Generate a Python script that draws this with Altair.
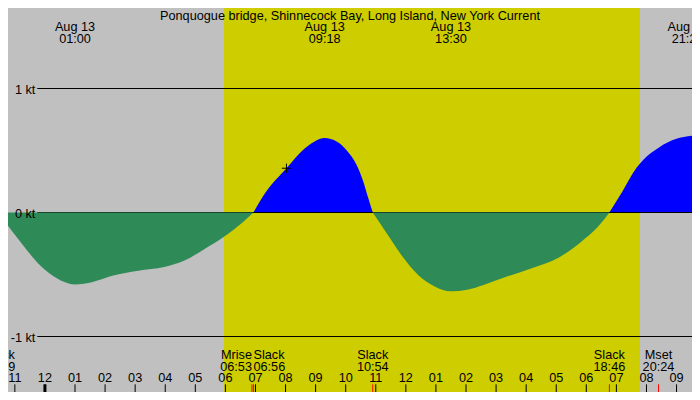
import altair as alt
import pandas as pd

# ---------------- data (hours relative to 00:00 Aug 13, knots) ----------------
ebb1_h = [-1.228, -0.903, -0.578, -0.146, 0.396, 0.991, 1.589, 2.238, 3.103, 3.970, 4.620, 5.270, 5.952, 6.569, 6.933]
ebb1_v = [-0.106, -0.21, -0.31, -0.43, -0.53, -0.58, -0.56, -0.51, -0.47, -0.44, -0.39, -0.30, -0.196, -0.08, 0.0]

flood1_h = [6.933, 7.317, 8.031, 8.616, 8.951, 9.30, 9.711, 10.036, 10.36, 10.575, 10.737, 10.9]
flood1_v = [0.0, 0.155, 0.357, 0.512, 0.571, 0.60, 0.571, 0.501, 0.385, 0.256, 0.127, 0.0]

ebb2_h = [10.9, 11.335, 11.874, 12.417, 12.960, 13.5, 14.042, 14.584, 15.341, 16.209, 17.073, 17.833, 18.372, 18.767]
ebb2_v = [0.0, -0.158, -0.351, -0.506, -0.597, -0.636, -0.623, -0.584, -0.519, -0.447, -0.364, -0.235, -0.119, 0.0]

flood2_h = [18.767, 19.2, 19.67, 19.89, 20.43, 20.97, 21.514]
flood2_v = [0.0, 0.17, 0.36, 0.424, 0.527, 0.592, 0.618]

sunrise_h = 5.95
sunset_h = 19.78

kt_levels = [1, 0, -1]
kt_labels = ["1 kt", "0 kt", "-1 kt"]

tick_hours = list(range(-1, 22))
tick_labels = ["11", "12", "01", "02", "03", "04", "05", "06", "07", "08", "09", "10",
               "11", "12", "01", "02", "03", "04", "05", "06", "07", "08", "09"]
midnight_h = [0]

ev_hours = [-1.517, 6.883, 6.933, 10.9, 18.767, 20.4]
ev_names = ["Slack", "Mrise", "Slack", "Slack", "Slack", "Mset"]
ev_times = ["22:29", "06:53", "06:56", "10:54", "18:46", "20:24"]
ev_align = ["center", "right", "left", "center", "center", "center"]

top_hours = [1.0, 9.3, 13.5, 21.367]
top_dates = ["Aug 13", "Aug 13", "Aug 13", "Aug 13"]
top_times = ["01:00", "09:18", "13:30", "21:22"]

marker_h = [8.031]
marker_v = [0.357]

title_text = "Ponquogue bridge, Shinnecock Bay, Long Island, New York Current"

# ---------------- layout ----------------
W, H = 684, 384            # whole chart (page adds an 8px margin)
SX, SY = W / 700.0, H / 400.0
KT = 124.0                 # pixels per knot
ZERO = 204.5               # pixel row of 0 kt


def px(x):
    return x * SX


def py(y):
    return y * SY


xs = alt.Scale(domain=[-1.228, 21.514], nice=False, zero=False)
ys = alt.Scale(domain=[-(H - ZERO) / KT, ZERO / KT], nice=False, zero=False)
FONT = "Liberation Sans"
FS = 12.7


def X(f):
    return alt.X(f, type="quantitative", scale=xs, axis=None)


def Y(f):
    return alt.Y(f, type="quantitative", scale=ys, axis=None)


def seg(h, v):
    return pd.DataFrame({"h": h, "v": v})


def txt(**kw):
    base = dict(font=FONT, fontSize=FS, baseline="alphabetic", color="black")
    base.update(kw)
    return base


day = alt.Chart(pd.DataFrame({"a": [sunrise_h], "b": [sunset_h]})).mark_rect(color="#cdcd00").encode(
    x=X("a"), x2="b", y=alt.value(0), y2=alt.value(H)
)

rules = alt.Chart(pd.DataFrame({"v": kt_levels})).mark_rule(color="black", strokeWidth=1).encode(
    x=alt.value(px(30)), x2=alt.value(W), y=Y("v")
)

floods = [
    alt.Chart(seg(h, v)).mark_area(color="#0000ff", interpolate="monotone", opacity=1).encode(
        x=X("h"), y=Y("v"), y2=alt.datum(0)
    )
    for h, v in [(flood1_h, flood1_v), (flood2_h, flood2_v)]
]
ebbs = [
    alt.Chart(seg(h, v)).mark_area(color="#2e8b57", interpolate="monotone", opacity=1).encode(
        x=X("h"), y=Y("v"), y2=alt.datum(0)
    )
    for h, v in [(ebb1_h, ebb1_v), (ebb2_h, ebb2_v)]
]

kt_text = alt.Chart(pd.DataFrame({"v": kt_levels, "lab": kt_labels})).mark_text(
    **txt(align="right", dy=5)
).encode(x=alt.value(px(28)), y=Y("v"), text="lab:N")

marker = alt.Chart(seg(marker_h, marker_v)).mark_point(
    shape="M-1,0L1,0M0,-1L0,1", size=85, filled=False, color="black", strokeWidth=1, opacity=1
).encode(x=X("h"), y=Y("v"))

ticks_df = pd.DataFrame({"h": tick_hours, "lab": tick_labels})
hour_ticks = alt.Chart(ticks_df).mark_rule(color="black", strokeWidth=1).encode(
    x=X("h"), y=alt.value(py(392)), y2=alt.value(H)
)
mid_ticks = alt.Chart(pd.DataFrame({"h": midnight_h})).mark_rule(color="black", strokeWidth=3).encode(
    x=X("h"), y=alt.value(py(392)), y2=alt.value(H)
)
hour_text = alt.Chart(ticks_df).mark_text(**txt()).encode(
    x=X("h"), y=alt.value(py(390)), text="lab:N"
)

ev_df = pd.DataFrame({"h": ev_hours, "name": ev_names, "time": ev_times, "al": ev_align})
ev_ticks = alt.Chart(ev_df).mark_rule(color="#ff0000", strokeWidth=1).encode(
    x=X("h"), y=alt.value(py(392)), y2=alt.value(H)
)
ev_layers = []
for al in ["left", "center", "right"]:
    base = alt.Chart(ev_df).transform_filter(alt.datum.al == al)
    ev_layers.append(base.mark_text(**txt(align=al)).encode(
        x=X("h"), y=alt.value(py(366)), text="name:N"))
    ev_layers.append(base.mark_text(**txt(align=al)).encode(
        x=X("h"), y=alt.value(py(378)), text="time:N"))

top_df = pd.DataFrame({"h": top_hours, "d": top_dates, "t": top_times})
top_d = alt.Chart(top_df).mark_text(**txt()).encode(
    x=X("h"), y=alt.value(py(24)), text="d:N")
top_t = alt.Chart(top_df).mark_text(**txt()).encode(
    x=X("h"), y=alt.value(py(36)), text="t:N")

title = alt.Chart(pd.DataFrame({"t": [title_text]})).mark_text(**txt()).encode(
    x=alt.value(W / 2), y=alt.value(py(12)), text="t:N")

chart = alt.layer(
    day, *floods, rules, *ebbs, kt_text, marker,
    hour_ticks, mid_ticks, ev_ticks, hour_text, *ev_layers, top_d, top_t, title
).properties(
    width=W, height=H, padding=0, autosize="none", background="#c0c0c0"
).configure_view(stroke=None)

chart.save("out.html", embed_options={"renderer": "svg", "actions": False})
